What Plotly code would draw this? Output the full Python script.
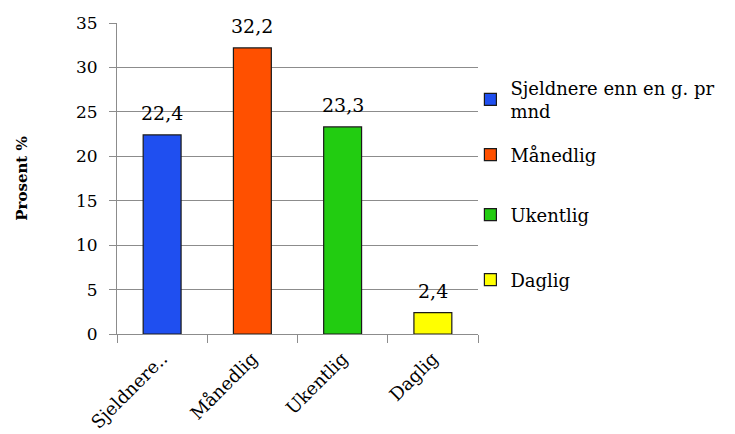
import plotly.graph_objects as go

# Survey data: how often respondents do the activity (percent)
categories = ["Sjeldnere..", "Månedlig", "Ukentlig", "Daglig"]
legend_names = ["Sjeldnere enn en g. pr<br>mnd", "Månedlig", "Ukentlig", "Daglig"]
values = [22.4, 32.2, 23.3, 2.4]
colors = ["#1f4ff0", "#ff5000", "#22cc11", "#ffff00"]
y_ticks = [0, 5, 10, 15, 20, 25, 30, 35]

FONT = "DejaVu Serif"

# one legend box per series so the entries can be spaced freely
legend_ids = ["legend", "legend2", "legend3", "legend4"]
legend_y = [0.771, 0.643, 0.505, 0.355]

fig = go.Figure()
for i, (cat, name, val, col) in enumerate(zip(categories, legend_names, values, colors)):
    fig.add_trace(go.Bar(
        x=[cat], y=[val], name=name,
        legend=legend_ids[i],
        marker=dict(color=col, line=dict(color="#1a1a1a", width=1.2)),
        width=0.42,
    ))
    # value label above each bar, comma as decimal separator
    fig.add_annotation(
        x=cat, y=val, text=f"{val:.1f}".replace(".", ","),
        showarrow=False, yanchor="bottom", yshift=9,
        font=dict(family=FONT, size=19, color="#000"),
    )

legend_style = dict(
    xref="container", yref="container",
    x=0.64, xanchor="left", yanchor="middle",
    font=dict(family=FONT, size=18, color="#000"),
    itemwidth=30, bgcolor="rgba(0,0,0,0)", borderwidth=0,
)

fig.update_layout(
    width=735, height=434,
    margin=dict(l=117, r=257, t=23, b=100, autoexpand=False),
    paper_bgcolor="white", plot_bgcolor="white",
    barmode="overlay",
    font=dict(family=FONT, size=17, color="#000"),
    showlegend=True,
    xaxis=dict(
        type="category",
        categoryorder="array", categoryarray=categories,
        tickangle=-45,
        tickfont=dict(family=FONT, size=18),
        showline=True, linecolor="#8c8c8c", linewidth=1,
        ticks="outside", tickson="boundaries", ticklen=8, tickcolor="#8c8c8c",
        ticklabelstandoff=6,
        showgrid=False,
        automargin=False,
    ),
    yaxis=dict(
        range=[0, 35],
        tickvals=y_ticks,
        tickfont=dict(family=FONT, size=17),
        showline=True, linecolor="#8c8c8c", linewidth=1,
        ticks="outside", ticklen=7, tickcolor="#8c8c8c",
        ticklabelstandoff=8,
        showgrid=True, gridcolor="#8c8c8c", gridwidth=1,
        zeroline=False,
        automargin=False,
        title=dict(text="<b>Prosent %</b>", font=dict(family=FONT, size=15), standoff=44),
    ),
)
for lid, ly in zip(legend_ids, legend_y):
    fig.update_layout({lid: dict(legend_style, y=ly)})

fig.write_html("out.html")
